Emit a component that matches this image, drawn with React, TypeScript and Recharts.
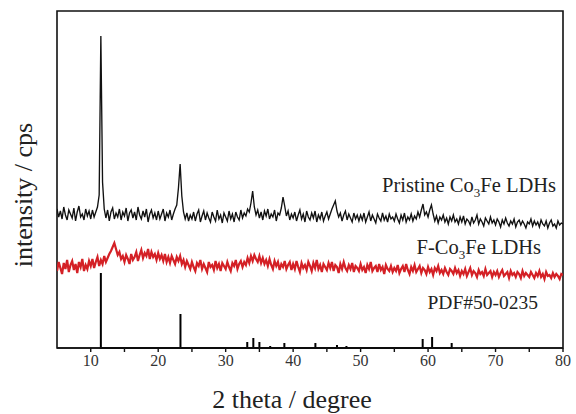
import React from "react";
import { LineChart, Line, XAxis, YAxis, ReferenceArea } from "recharts";

// Scan grid: 2θ from 5° to 80° in 0.25° steps
const scanStart = 5;
const scanStep = 0.25;

// Pristine Co3Fe LDHs intensity (a.u.)
const pristineIntensity = [
  139,131,137,129,141,133,128,138,134,130,140,127,136,142,131,134,128,139,132,137,
  129,138,131,136,141,153,312,166,139,130,138,127,136,140,129,135,131,139,128,136,
  132,140,127,135,138,130,136,128,141,133,129,137,131,139,126,134,138,130,135,128,
  137,129,134,139,127,135,131,138,128,134,139,143,160,184,152,136,129,135,127,133,
  129,136,127,134,138,126,132,137,128,135,130,126,136,131,127,138,129,133,125,135,
  131,127,137,129,134,126,136,131,128,138,130,135,132,139,136,145,157,141,133,138,
  130,136,128,137,132,139,129,134,131,138,127,135,133,140,151,142,132,137,128,134,
  130,136,127,133,138,129,134,126,137,131,128,135,130,137,126,133,129,136,127,132,
  136,129,134,139,143,147,137,131,135,127,133,137,128,134,130,126,135,129,133,127,
  133,128,135,126,131,136,127,133,129,125,134,130,127,135,128,132,126,134,129,131,
  127,134,129,125,133,128,135,126,131,128,134,127,132,129,136,131,138,144,133,136,
  131,138,143,134,127,132,125,131,128,133,126,130,124,131,127,133,126,129,124,131,
  126,132,124,129,127,123,131,125,128,133,124,129,126,122,130,127,124,131,125,128,
  123,129,126,121,128,124,130,125,122,127,124,129,121,126,128,123,127,124,120,126,
  124,129,122,127,123,126,121,128,124,122,127,120,125,128,122,124,120,127,123,125,
  124,
];

// F-Co3Fe LDHs intensity (a.u.)
const fluorinatedIntensity = [
  77,86,80,74,85,79,88,76,83,87,78,84,75,86,81,89,77,83,79,87,
  82,89,80,86,91,82,88,84,92,86,90,94,97,101,105,99,93,96,89,92,
  86,93,89,84,94,88,91,96,87,93,98,90,95,92,99,89,96,91,94,88,
  95,89,93,87,94,86,91,85,92,88,84,91,87,92,84,88,81,87,83,79,
  86,81,77,85,82,88,79,84,80,76,86,81,83,78,87,80,84,77,85,82,
  79,86,81,77,85,82,88,79,84,87,81,86,83,90,85,92,87,93,89,86,
  92,85,90,84,88,82,89,83,79,87,82,86,78,84,81,87,79,83,86,78,
  84,79,87,81,76,85,80,83,78,86,82,77,85,80,88,79,83,76,84,81,
  78,85,80,86,77,83,81,75,84,79,86,80,77,83,79,85,76,82,80,77,
  84,78,81,75,83,79,86,77,80,82,76,84,78,81,74,83,79,77,82,76,
  80,77,83,75,79,82,76,84,78,74,81,77,83,76,79,82,75,80,78,74,
  81,76,79,73,80,77,82,75,78,74,80,76,73,79,77,74,80,75,78,72,
  77,74,79,72,76,80,73,77,75,71,78,74,76,72,79,73,75,77,71,76,
  73,77,71,75,78,72,74,76,70,77,73,75,71,76,74,70,77,72,75,73,
  71,76,73,70,75,72,77,71,74,69,76,72,73,70,75,71,74,72,69,74,
  73,
];

// Reference pattern PDF#50-0235: positions (2θ) and relative heights
const pdfPositions = [11.5, 23.3, 33.2, 34.1, 35.0, 36.6, 38.7, 43.3, 46.5, 47.9, 52.5, 56.0, 59.2, 60.6, 63.5];
const pdfHeights = [75, 34, 6, 10, 6, 2, 5, 5, 3, 2, 1, 1, 9, 11, 5];

const xTicks = [10, 15, 20, 25, 30, 35, 40, 45, 50, 55, 60, 65, 70, 75, 80];
const yMax = 337;

const pristineData = pristineIntensity.map((v, i) => ({ x: scanStart + i * scanStep, v }));
const fluorinatedData = fluorinatedIntensity.map((v, i) => ({ x: scanStart + i * scanStep, v }));
const pdfData = pdfPositions.flatMap((p, i) => [
  { x: p, v: 0 },
  { x: p, v: pdfHeights[i] },
  { x: p, v: 0 },
]);

const serif = "'Liberation Serif', 'Times New Roman', serif";

export default function App() {
  return (
    <div style={{ position: "absolute", left: 0, top: 0, width: 576, height: 414, background: "#fff", fontFamily: serif }}>
      <LineChart width={576} height={414} margin={{ top: 11, right: 13, bottom: 0, left: 57 }} style={{ fontFamily: serif }}>
        <XAxis
          dataKey="x"
          type="number"
          domain={[5, 80]}
          ticks={xTicks}
          allowDataOverflow
          height={66}
          tickSize={4}
          tickMargin={3}
          interval={0}
          tickFormatter={(t: number) => (t % 10 === 0 ? String(t) : "")}
          tick={{ fontFamily: "Liberation Serif", fontSize: 16, fill: "#333" }}
          axisLine={{ stroke: "#111", strokeWidth: 1.6 }}
          tickLine={{ stroke: "#111", strokeWidth: 1.4 }}
        />
        <YAxis type="number" domain={[0, yMax]} hide />
        <ReferenceArea x1={5} x2={80} y1={0} y2={yMax} fill="none" stroke="#111" strokeWidth={1.6} fillOpacity={0} />
        <Line data={fluorinatedData} dataKey="v" stroke="#d42025" strokeWidth={2.2} dot={false} isAnimationActive={false} type="linear" />
        <Line data={pristineData} dataKey="v" stroke="#111" strokeWidth={1.35} dot={false} isAnimationActive={false} type="linear" />
        <Line data={pdfData} dataKey="v" stroke="#000" strokeWidth={2} dot={false} isAnimationActive={false} type="linear" />
        <text x={556} y={192} textAnchor="end" fontFamily={serif} fontSize={20.5} fill="#222">
          Pristine Co<tspan dy={5} fontSize={13}>3</tspan><tspan dy={-5}>Fe LDHs</tspan>
        </text>
        <text x={541} y={254} textAnchor="end" fontFamily={serif} fontSize={20.5} fill="#222">
          F-Co<tspan dy={5} fontSize={13}>3</tspan><tspan dy={-5}>Fe LDHs</tspan>
        </text>
        <text x={538} y={309} textAnchor="end" fontFamily={serif} fontSize={19.5} fill="#222">
          PDF#50-0235
        </text>
        <text x={292} y={408} textAnchor="middle" fontFamily={serif} fontSize={26} fill="#222">
          2 theta / degree
        </text>
        <text x={32} y={195} textAnchor="middle" fontFamily={serif} fontSize={26} fill="#222" transform="rotate(-90 32 195)">
          intensity / cps
        </text>
      </LineChart>
    </div>
  );
}
